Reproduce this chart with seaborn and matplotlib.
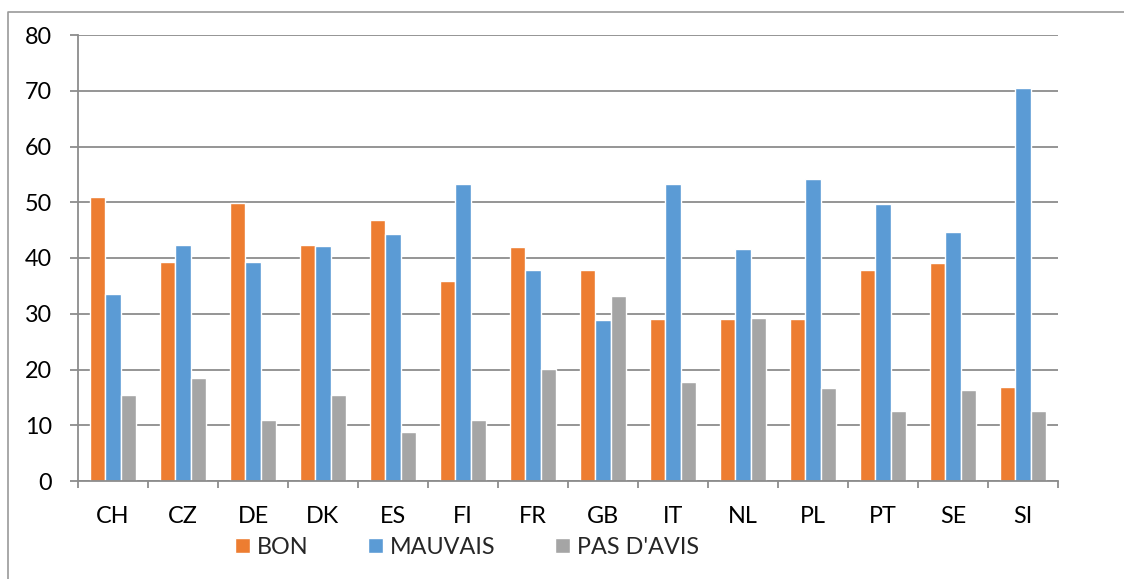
import numpy as np
import pandas as pd
import matplotlib
matplotlib.use("Agg")
import matplotlib.pyplot as plt
from matplotlib.lines import Line2D
from matplotlib.ticker import FixedLocator
import seaborn as sns

pays = ["CH", "CZ", "DE", "DK", "ES", "FI", "FR", "GB", "IT", "NL", "PL", "PT", "SE", "SI"]
bon = [51.0, 39.3, 49.8, 42.3, 46.9, 35.8, 42.0, 37.9, 29.1, 29.0, 29.1, 37.8, 39.1, 16.9]
mauvais = [33.5, 42.3, 39.3, 42.1, 44.3, 53.2, 37.8, 28.9, 53.2, 41.7, 54.2, 49.6, 44.7, 70.5]
pas_avis = [15.4, 18.4, 10.9, 15.5, 8.7, 11.0, 20.1, 33.2, 17.7, 29.3, 16.7, 12.6, 16.3, 12.6]
series = ["BON", "MAUVAIS", "PAS D'AVIS"]
y_ticks = [0, 10, 20, 30, 40, 50, 60, 70, 80]

df = pd.DataFrame({
    "pays": pays * 3,
    "valeur": bon + mauvais + pas_avis,
    "serie": [series[0]] * len(pays) + [series[1]] * len(pays) + [series[2]] * len(pays),
})

sns.set_theme(style="white")
plt.rcParams["font.family"] = ["Lato", "DejaVu Sans"]
FS = 16.8
grid_c = "#8c8c8c"

fig = plt.figure(figsize=(11.24, 5.79), dpi=100, facecolor="white")
ax = fig.add_axes([78 / 1124, 1 - 481 / 579, (1058 - 78) / 1124, (481 - 35) / 579])

sns.barplot(data=df, x="pays", y="valeur", hue="serie", order=pays, hue_order=series,
            palette=["#ED7D31", "#5B9BD5", "#A5A5A5"], width=0.657, gap=0,
            saturation=1, ax=ax, errorbar=None)

ax.set_xlim(-0.5, len(pays) - 0.5)
ax.set_ylim(0, 80)
ax.set_yticks(y_ticks)
ax.set_xlabel("")
ax.set_ylabel("")
ax.yaxis.grid(True, color=grid_c, linewidth=1.3)
ax.set_axisbelow(True)

for s in ["top", "right"]:
    ax.spines[s].set_visible(False)
for s in ["left", "bottom"]:
    ax.spines[s].set_color(grid_c)
    ax.spines[s].set_linewidth(1.3)

ax.tick_params(axis="y", which="major", left=True, length=5.8, width=1.3, color=grid_c,
               pad=12.7, labelsize=FS, labelcolor="black")
ax.tick_params(axis="x", which="major", bottom=False, length=0, pad=18,
               labelsize=FS, labelcolor="black")
ax.xaxis.set_minor_locator(FixedLocator(np.arange(-0.5, len(pays), 1.0)))
ax.tick_params(axis="x", which="minor", bottom=True, length=5, width=1.3, color=grid_c)

handles, labels = ax.get_legend_handles_labels()
ax.legend(handles, labels, loc="center", bbox_to_anchor=(0.397, -0.148), ncol=3,
          frameon=False, fontsize=FS, borderpad=0, handlelength=0.64, handleheight=0.64,
          handletextpad=0.3, columnspacing=2.53, borderaxespad=0)

# outer chart border (top and left edges visible)
fig.add_artist(Line2D([7.5 / 1124, 7.5 / 1124, 1.0], [0.0, 1 - 11.5 / 579, 1 - 11.5 / 579],
                      transform=fig.transFigure, color="#9a9a9a", linewidth=1.2))

fig.savefig("out.png", dpi=100, facecolor="white")
